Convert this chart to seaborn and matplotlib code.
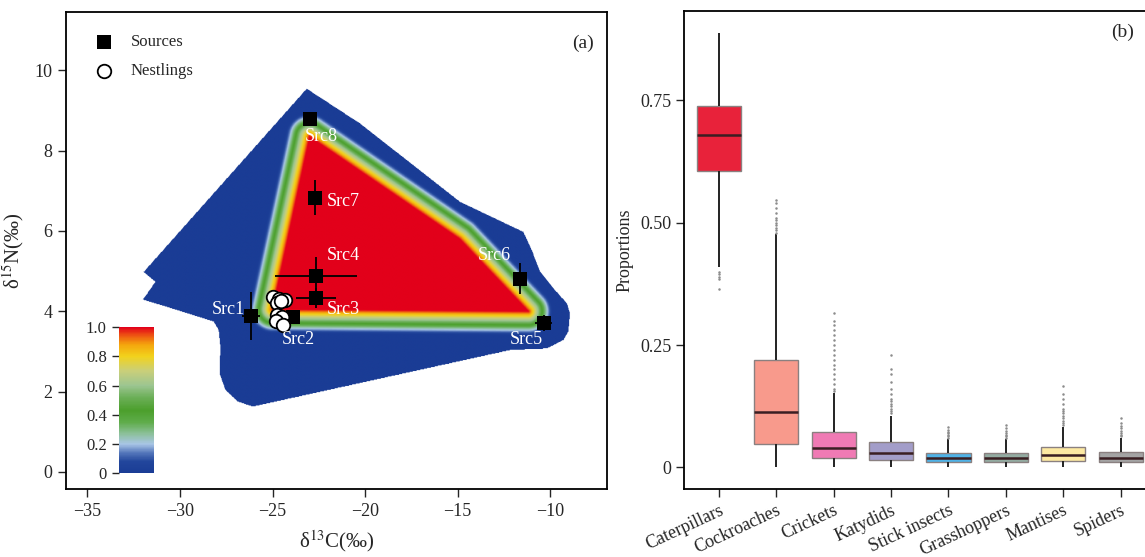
import numpy as np
import pandas as pd
import matplotlib
matplotlib.use("Agg")
import matplotlib.pyplot as plt
from matplotlib.colors import LinearSegmentedColormap
from matplotlib.path import Path
import seaborn as sns

# ---------------- panel (a) data ----------------
src_names = ["Src1", "Src2", "Src3", "Src4", "Src5", "Src6", "Src7", "Src8"]
src_c = [-26.17, -23.87, -22.65, -22.65, -10.36, -11.65, -22.73, -22.98]
src_n = [3.88, 3.85, 4.33, 4.88, 3.71, 4.81, 6.83, 8.79]
src_c_sd = [0.50, 0.30, 1.08, 2.20, 0.45, 0.15, 0.15, 0.12]
src_n_sd = [0.60, 0.15, 0.25, 0.46, 0.20, 0.38, 0.44, 0.12]

nest_c = [-24.95, -24.63, -24.32, -24.74, -24.55, -24.77, -24.50, -24.81, -24.41]
nest_n = [4.36, 4.30, 4.28, 4.20, 4.25, 3.90, 3.86, 3.76, 3.65]

# outline of the simulated mixing region (blue area)
region_c = [-23.16, -20.27, -14.88, -11.46, -11.0, -10.55, -9.75, -9.11, -8.94, -9.03,
            -9.30, -10.19, -12.17, -26.07, -26.9, -27.56, -27.87, -27.83, -27.92, -28.19,
            -32.01, -31.34, -31.97]
region_n = [9.55, 8.68, 6.73, 5.98, 5.52, 4.98, 4.53, 4.20, 3.95, 3.49,
            3.28, 3.07, 3.03, 1.62, 1.75, 2.04, 2.45, 3.11, 3.53, 3.74,
            4.29, 4.73, 4.98]
# area with probability 1 (red)
core_c = [-23.0, -14.9, -11.2, -25.0]
core_n = [8.35, 5.8, 4.0, 4.05]

# ---------------- panel (b) data ----------------
categories = ["Caterpillars", "Cockroaches", "Crickets", "Katydids",
              "Stick insects", "Grasshoppers", "Mantises", "Spiders"]
box_colors = ["#e8223a", "#f89a8c", "#f07ab4", "#a39dc9",
              "#4fb2e6", "#93aba1", "#fde9a2", "#a4a4a4"]
q1 = [0.606, 0.047, 0.020, 0.0145, 0.011, 0.011, 0.0125, 0.011]
med = [0.680, 0.114, 0.040, 0.029, 0.020, 0.018, 0.025, 0.020]
q3 = [0.739, 0.219, 0.073, 0.051, 0.030, 0.030, 0.041, 0.031]
whis_lo = [0.41, 0.0, 0.0, 0.0, 0.0, 0.0, 0.0, 0.0]
whis_hi = [0.887, 0.476, 0.152, 0.105, 0.058, 0.058, 0.083, 0.060]
fliers_low = [[0.365, 0.385, 0.39, 0.395, 0.40], [], [], [], [], [], [], []]
fliers_high = [
    [],
    [0.48, 0.485, 0.49, 0.495, 0.50, 0.505, 0.51, 0.52, 0.53, 0.54, 0.547],
    [0.155, 0.16, 0.17, 0.18, 0.19, 0.20, 0.21, 0.22, 0.23, 0.24, 0.25, 0.26, 0.27, 0.28, 0.29, 0.30, 0.316],
    [0.11, 0.115, 0.12, 0.125, 0.13, 0.135, 0.14, 0.15, 0.16, 0.175, 0.19, 0.20, 0.229],
    [0.06, 0.063, 0.066, 0.07, 0.073, 0.077, 0.083],
    [0.06, 0.063, 0.066, 0.07, 0.074, 0.08, 0.087],
    [0.086, 0.09, 0.095, 0.10, 0.105, 0.11, 0.115, 0.12, 0.13, 0.14, 0.15, 0.167],
    [0.063, 0.066, 0.07, 0.075, 0.08, 0.085, 0.09, 0.10],
]

sns.set_style("ticks")
plt.rcParams["font.family"] = ["Liberation Serif", "DejaVu Serif"]
plt.rcParams["mathtext.fontset"] = "stix"
plt.rcParams["axes.linewidth"] = 1.3
plt.rcParams["axes.edgecolor"] = "black"

fig = plt.figure(figsize=(11.45, 5.57), dpi=100)
ax1 = fig.add_axes([0.0575, 0.1212, 0.4726, 0.8565])
ax2 = fig.add_axes([0.5978, 0.1224, 0.4110, 0.8571])
cax = fig.add_axes([0.1036, 0.150, 0.0307, 0.263])

# ---- probability field of the mixing polygon ----
cmap = LinearSegmentedColormap.from_list("mix", [
    (0.0, "#1a3c95"), (0.08, "#22469c"), (0.14, "#5577bb"), (0.2, "#a9c6e6"),
    (0.27, "#8cc09a"), (0.35, "#5fac4a"), (0.43, "#4b9f2c"), (0.52, "#6caf58"),
    (0.6, "#9cc591"), (0.7, "#c9cf7a"), (0.8, "#f2d21c"), (0.88, "#f4a60d"),
    (0.94, "#ee5a12"), (1.0, "#e2001a")])
cmap.set_bad((1, 1, 1, 0))

sx, sy = 18.52, 40.14  # pixels per data unit
gx = np.linspace(-32.3, -8.7, 700)
gy = np.linspace(1.5, 9.7, 420)
GX, GY = np.meshgrid(gx, gy)
pts = np.column_stack([GX.ravel(), GY.ravel()])
core = np.column_stack([core_c, core_n])
dist = np.full(len(pts), np.inf)
P = pts * [sx, sy]
for i in range(len(core)):
    a = core[i] * [sx, sy]
    b = core[(i + 1) % len(core)] * [sx, sy]
    ab = b - a
    t = np.clip(((P - a) @ ab) / (ab @ ab), 0, 1)
    proj = a + t[:, None] * ab
    dist = np.minimum(dist, np.hypot(*(P - proj).T))
inside_core = Path(core).contains_points(pts)
dist[inside_core] = 0
val = np.clip(1 - dist / 24.0, 0, 1)
inside_region = Path(np.column_stack([region_c, region_n])).contains_points(pts)
val[~inside_region] = np.nan
field = np.ma.masked_invalid(val.reshape(GX.shape))
im = ax1.imshow(field, origin="lower", extent=[gx[0], gx[-1], gy[0], gy[-1]],
                cmap=cmap, vmin=0, vmax=1, aspect="auto", interpolation="bilinear", zorder=1)

ax1.errorbar(src_c, src_n, xerr=src_c_sd, yerr=src_n_sd, fmt="none",
             ecolor="black", elinewidth=1.3, capsize=0, zorder=3)
sns.scatterplot(x=src_c, y=src_n, marker="s", color="black", s=95,
                linewidth=0, label="Sources", ax=ax1, zorder=4)
sns.scatterplot(x=nest_c, y=nest_n, marker="o", facecolor="white", edgecolor="black",
                s=95, linewidth=1.3, label="Nestlings", ax=ax1, zorder=5)

lab_pos = {"Src1": (-26.5, 4.03, "right"), "Src2": (-23.6, 3.30, "center"),
           "Src3": (-22.05, 4.03, "left"), "Src4": (-22.05, 5.38, "left"),
           "Src5": (-11.3, 3.30, "center"), "Src6": (-13.04, 5.38, "center"),
           "Src7": (-22.05, 6.73, "left"), "Src8": (-22.36, 8.35, "center")}
for name in src_names:
    x, y, ha = lab_pos[name]
    ax1.text(x, y, name, color="white", fontsize=13, ha=ha, va="center", zorder=6)

ax1.set_xlim(-36.16, -6.94)
ax1.set_ylim(-0.44, 11.44)
ax1.set_xticks(range(-35, -5, 5))
ax1.set_yticks(range(0, 11, 2))
ax1.tick_params(labelsize=13, length=6, width=1, direction="out")
ax1.set_xlabel("δ$^{13}$C(‰)", fontsize=15, labelpad=6)
ax1.set_ylabel("δ$^{15}$N(‰)", fontsize=15, labelpad=6)
ax1.legend(loc="upper left", frameon=False, fontsize=12, handletextpad=0.6,
           borderaxespad=0.9, labelspacing=0.8, markerscale=1.0)
ax1.text(0.955, 0.935, "(a)", transform=ax1.transAxes, fontsize=14, ha="center", va="center")

cb = fig.colorbar(im, cax=cax, ticks=[0, 0.2, 0.4, 0.6, 0.8, 1.0])
cb.outline.set_visible(False)
cax.yaxis.set_ticks_position("left")
cax.set_yticklabels(["0", "0.2", "0.4", "0.6", "0.8", "1.0"])
cax.tick_params(labelsize=12, length=5, width=1, direction="out")

# ---- panel (b): boxplots ----
rows = []
for i, cat in enumerate(categories):
    lo = list(fliers_low[i]) + [whis_lo[i]]
    hi = [whis_hi[i]] + list(fliers_high[i])
    m = max(len(lo), len(hi))
    lo = lo + [whis_lo[i]] * (m - len(lo))
    hi = [whis_hi[i]] * (m - len(hi)) + hi
    vals = lo + [q1[i]] * m + [med[i]] + [q3[i]] * m + hi
    rows += [(cat, v) for v in vals]
df = pd.DataFrame(rows, columns=["prey", "prop"])

sns.boxplot(data=df, x="prey", y="prop", hue="prey", order=categories, hue_order=categories,
            palette=box_colors, saturation=1, dodge=False, legend=False, width=0.77,
            linewidth=1, showcaps=False, ax=ax2,
            boxprops=dict(edgecolor="#8a8080", linewidth=1),
            whiskerprops=dict(color="#222222", linewidth=1.4),
            medianprops=dict(color="#3a1e22", linewidth=1.8),
            flierprops=dict(marker=".", markersize=1.6, markerfacecolor="#8c8c8c",
                            markeredgecolor="#8c8c8c"))
ax2.set_xlim(-0.6, 7.6)
ax2.set_ylim(-0.044, 0.932)
ax2.set_yticks([0, 0.25, 0.5, 0.75])
ax2.set_yticklabels(["0", "0.25", "0.50", "0.75"])
ax2.set_xlabel("")
ax2.set_ylabel("Proportions", fontsize=13, labelpad=5)
ax2.tick_params(axis="y", labelsize=13, length=6, width=1, direction="out")
ax2.tick_params(axis="x", labelsize=13, length=6, width=1, direction="out")
for lab in ax2.get_xticklabels():
    lab.set_rotation(25)
    lab.set_ha("right")
    lab.set_rotation_mode("anchor")
ax2.text(1123, 0.89, "(b)", fontsize=14, ha="center", va="center",
         transform=matplotlib.transforms.blended_transform_factory(
             matplotlib.transforms.IdentityTransform(), ax2.transData))
for sp in ax2.spines.values():
    sp.set_linewidth(1.3)

fig.savefig("out.png", dpi=100)
